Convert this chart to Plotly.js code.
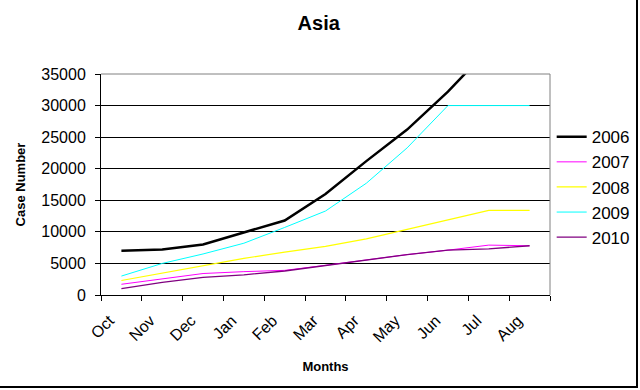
<!DOCTYPE html>
<html>
<head>
<meta charset="utf-8">
<script src="https://cdn.plot.ly/plotly-3.0.1.min.js"></script>
<style>
  html, body { margin: 0; padding: 0; background: #fff; }
  #wrap { position: relative; width: 640px; height: 390px; }
  #chart { width: 640px; height: 390px; }
  #frame { position: absolute; left: 0; top: 0; width: 636px; height: 386px;
           border-right: 2px solid #000; border-bottom: 2px solid #000; pointer-events: none; }
</style>
</head>
<body>
<div id="wrap"><div id="chart"></div><div id="frame"></div></div>
<script>
const months = ["Oct","Nov","Dec","Jan","Feb","Mar","Apr","May","Jun","Jul","Aug"];
const y2006 = [7000, 7200, 8000, 9900, 11800, 16000, 21200, 26200, 32200, 39000, 45000];
const y2007 = [1700, 2600, 3400, 3700, 3900, 4700, 5600, 6400, 7100, 7900, 7800];
const y2008 = [2300, 3500, 4600, 5800, 6800, 7700, 8900, 10400, 11900, 13400, 13400];
const y2009 = [3000, 5000, 6500, 8200, 10700, 13300, 17700, 23300, 30000, 30000, 30000];
const y2010 = [1000, 2000, 2800, 3200, 3800, 4700, 5600, 6400, 7100, 7300, 7800];
const seriesNames = ["2006","2007","2008","2009","2010"];
const seriesColors = ["#000000","#FF00FF","#FFFF00","#00FFFF","#800080"];
const seriesWidths = [2.5, 1, 1.2, 1, 1.3];
const allY = [y2006, y2007, y2008, y2009, y2010];

const traces = allY.map((ys, i) => ({
  type: "scatter", mode: "lines", x: months, y: ys, name: seriesNames[i],
  line: {color: seriesColors[i], width: seriesWidths[i]}
}));

const font = "Liberation Sans, Arial, sans-serif";
const layout = {
  width: 640, height: 390,
  margin: {l: 101, r: 90, t: 74, b: 95},
  paper_bgcolor: "#fff", plot_bgcolor: "#fff",
  showlegend: true,
  title: {text: "<b>Asia</b>", font: {family: font, size: 20, color: "#000"}, x: 0.498, xanchor: "center", y: 0.94, yanchor: "middle"},
  xaxis: {
    type: "category", range: [-0.5, 10.5], tickson: "boundaries",
    ticks: "outside", ticklen: 5, tickcolor: "#000", tickwidth: 1,
    showline: true, linecolor: "#000", linewidth: 1, showgrid: false,
    tickangle: -45, tickfont: {family: font, size: 16, color: "#000"},
    ticklabelstandoff: 9, ticklabelshift: -12,
    title: {text: "<b>Months</b>", font: {family: font, size: 13, color: "#000"}, standoff: 17},
    automargin: false,
    fixedrange: true
  },
  yaxis: {
    range: [0, 35000], dtick: 5000, tick0: 0, tickformat: "d",
    ticks: "outside", ticklen: 5, tickcolor: "#000", tickwidth: 1,
    showline: true, linecolor: "#000", linewidth: 1,
    showgrid: true, gridcolor: "#000", gridwidth: 1, zeroline: false,
    tickfont: {family: font, size: 16, color: "#000"},
    ticklabelstandoff: 6,
    title: {text: "<b>Case Number</b>", font: {family: font, size: 13, color: "#000"}, standoff: 12},
    automargin: false,
    fixedrange: true
  },
  legend: {
    xref: "container", yref: "container",
    x: 0.862, xanchor: "left", y: 0.52, yanchor: "middle",
    font: {family: font, size: 17, color: "#000"},
    bgcolor: "rgba(0,0,0,0)", itemwidth: 30, tracegroupgap: 0
  },
  shapes: [
    {type: "line", xref: "paper", yref: "paper", x0: 0, x1: 1, y0: 1, y1: 1, line: {color: "#808080", width: 1}, layer: "above"},
    {type: "line", xref: "paper", yref: "paper", x0: 1, x1: 1, y0: 0, y1: 1, line: {color: "#808080", width: 1}, layer: "above"}
  ]
};
Plotly.newPlot("chart", traces, layout, {displayModeBar: false, staticPlot: true});
</script>
</body>
</html>
